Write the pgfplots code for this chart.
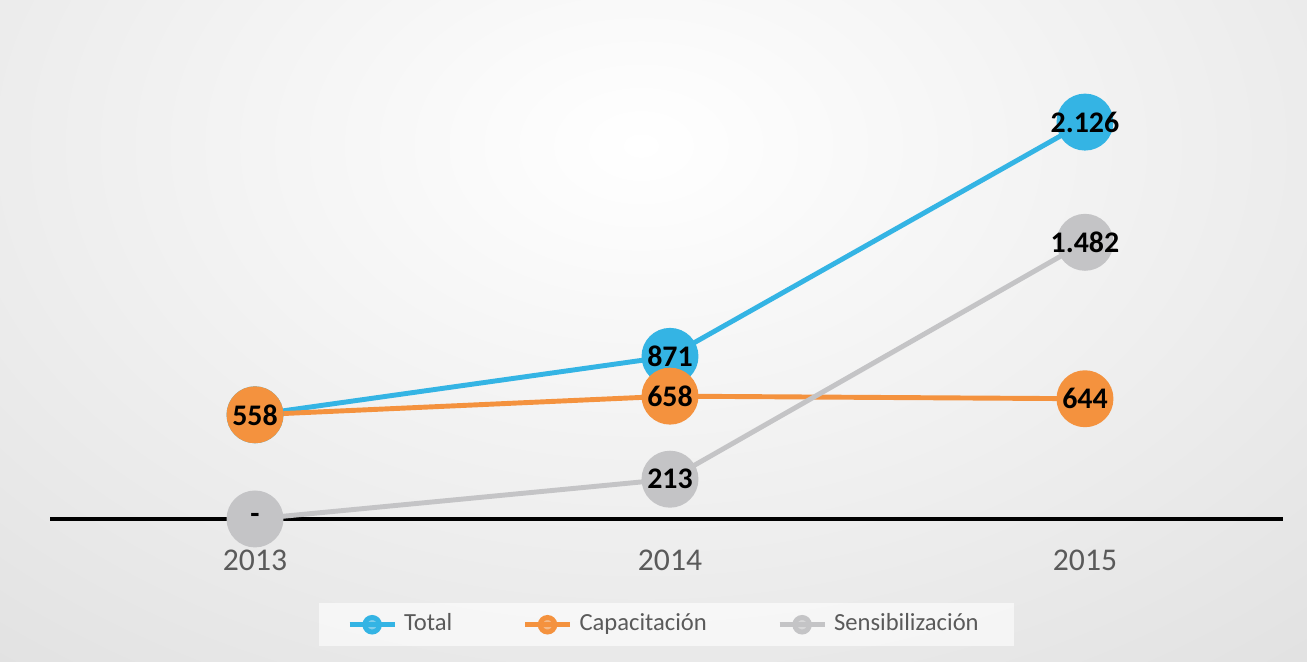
\documentclass[border=0pt]{standalone}
\usepackage{pgfplots}
\pgfplotsset{compat=1.18}
\usepackage{fontspec}
\setmainfont{Carlito}
\usetikzlibrary{backgrounds}

\definecolor{cTotal}{RGB}{52,180,228}
\definecolor{cCap}{RGB}{244,146,62}
\definecolor{cSen}{RGB}{196,196,198}
\definecolor{bgc}{RGB}{212,212,212}
\definecolor{txt}{RGB}{90,90,90}

\begin{document}
\begin{tikzpicture}
    \begin{axis}[
        scale only axis,
        width              = 12.33cm,
        height             = 4.99cm,
        xmin               = -0.494,
        xmax               = 2.477,
        ymin               = 0,
        ymax               = 2673,
        clip               = false,
        axis x line*       = bottom,
        x axis line style  = {-, black, line width=0.9pt},
        hide y axis,
        xtick              = {0, 1, 2},
        xticklabels        = {2013, 2014, 2015},
        major tick length  = 0pt,
        xticklabel style   = {font=\fontsize{9}{10}\selectfont, text=txt, yshift=-0.17cm},
        line width         = 1.4pt,
        mark size          = 7.4pt,
        nodes near coords,
        point meta         = explicit symbolic,
        nodes near coords style = {anchor=center, font=\fontsize{8.5}{10}\selectfont\bfseries, text=black},
        legend columns     = -1,
        legend style       = {at={(0.5,-0.212)}, anchor=center, draw=none,
                              fill=white, fill opacity=0.6, text opacity=1,
                              font=\fontsize{7}{8}\selectfont, text=txt,
                              inner xsep=8pt, inner ysep=1pt,
                              /tikz/every even column/.append style={column sep=18pt}},
        legend image code/.code = {
            \draw[#1, mark=none, line width=1.4pt] (0cm,0cm) -- (0.45cm,0cm);
            \draw[#1, only marks, mark options={scale=0.28}] plot coordinates {(0.225cm,0cm)};
        }]

        \coordinate (BL) at (axis cs:-0.6145,-766);
        \coordinate (TR) at (axis cs:2.535,2780);
        \coordinate (C)  at (axis cs:0.93,2000);

        \addplot[color=cTotal, mark=*, mark options={fill=cTotal, draw=cTotal}]
            coordinates {
                (0,558)  [558]
                (1,871)  [871]
                (2,2126) [2.126]
            };
        \addlegendentry{Total}

        \addplot[color=cCap, mark=*, mark options={fill=cCap, draw=cCap}]
            coordinates {
                (0,558) [558]
                (1,658) [658]
                (2,644) [644]
            };
        \addlegendentry{Capacitación}

        \addplot[color=cSen, mark=*, mark options={fill=cSen, draw=cSen}]
            coordinates {
                (0,0)    [-]
                (1,213)  [213]
                (2,1482) [1.482]
            };
        \addlegendentry{Sensibilización}
    \end{axis}

    \begin{scope}[on background layer]
        \clip (BL) rectangle (TR);
        \fill[bgc] (BL) rectangle (TR);
        \shade[overlay, inner color=white, outer color=bgc] (C) ellipse [x radius=15cm, y radius=10cm];
    \end{scope}
    \path[use as bounding box] (BL) rectangle (TR);
\end{tikzpicture}
\end{document}
